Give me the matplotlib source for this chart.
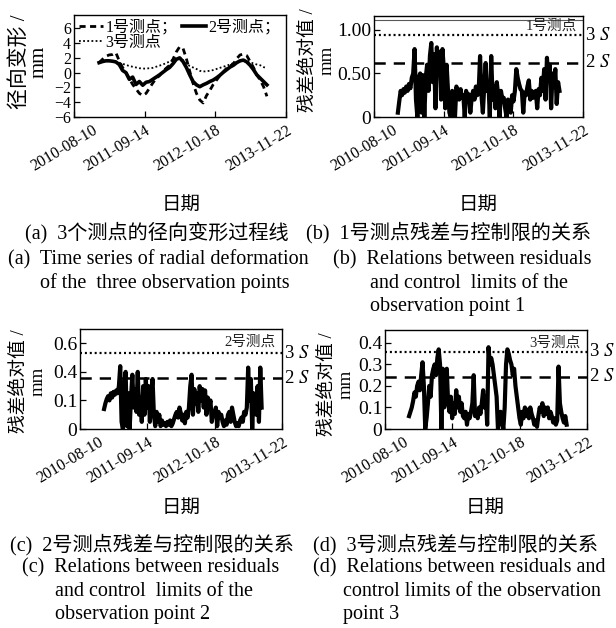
import numpy as np
import pandas as pd
import matplotlib
matplotlib.use('Agg')
import matplotlib.pyplot as plt
import matplotlib.dates as mdates
from matplotlib.transforms import ScaledTranslation

plt.rcParams['font.family'] = ['Liberation Serif', 'Noto Sans CJK SC']
plt.rcParams['mathtext.fontset'] = 'stix'

# x axis ticks
tick_dates = ['2010-08-10', '2011-09-14', '2012-10-18', '2013-11-22']

# (a) 径向变形 (mm), 每 19 天一个值
start_a = '2010-12-30'
defo_p1 = [1.35, 1.8, 2.2, 2.4, 2.45, 2.7, 1.6, 0.7, 0.0, -0.8, -1.6, -2.2, -2.8,
           -3.1, -2.8, -2.1, -1.4, -0.8, -0.4, 0.2, 0.6, 1.0, 1.8, 2.8, 3.5, 3.3,
           1.9, 0.2, -1.45, -2.8, -3.7, -4.1, -3.1, -2.4, -1.6, -1.0, -0.4, 0.1,
           0.6, 0.9, 1.2, 1.9, 2.4, 2.5, 2.3, 1.5, 0.7, -0.3, -1.0, -1.9, -3.2]
defo_p2 = [1.35, 1.5, 1.6, 1.6, 1.55, 1.45, 1.1, 0.3, 0.0, -0.9, -0.6, -1.6, -1.2,
           -1.7, -1.3, -1.2, -0.9, -0.6, -0.3, 0.05, 0.4, 0.7, 1.2, 1.8, 2.0, 1.5,
           0.7, -0.3, -1.2, -1.65, -1.9, -1.65, -1.45, -1.2, -1.0, -0.7, -0.35,
           0.05, 0.4, 0.75, 1.0, 1.35, 1.6, 1.7, 1.45, 1.0, 0.4, -0.3, -0.75,
           -1.2, -1.65]
defo_p3 = [1.35, 1.55, 1.7, 1.65, 1.55, 1.45, 1.35, 1.2, 1.05, 0.9, 0.8, 0.7, 0.6,
           0.55, 0.55, 0.6, 0.65, 0.8, 0.95, 1.1, 1.3, 1.5, 1.75, 2.0, 1.95, 1.7,
           1.2, 0.9, 0.7, 0.5, 0.25, 0.15, 0.2, 0.25, 0.35, 0.5, 0.65, 0.8, 0.95,
           1.1, 1.3, 1.4, 1.55, 1.6, 1.5, 1.4, 1.25, 1.1, 1.0, 0.75, 0.6]

# (b)-(d) 残差绝对值 (mm), 每 8 天一个值
start_b = '2010-12-25'
res_p1 = [0.05, 0.18, 0.30, 0.25, 0.32, 0.28, 0.35, 0.30, 0.38, 0.33, 0.45, 0.50,
          0.78, 0.20, 0.00, 0.45, 0.50, 0.05, 0.48, 0.00, 0.45, 0.60, 0.30, 0.70,
          0.85, 0.40, 0.72, 0.10, 0.80, 0.50, 0.75, 0.20, 0.78, 0.55, 0.10, 0.60,
          0.30, 0.05, 0.00, 0.30, 0.15, 0.00, 0.35, 0.28, 0.20, 0.32, 0.22, 0.25,
          0.00, 0.30, 0.18, 0.26, 0.05, 0.22, 0.30, 0.20, 0.35, 0.25, 0.30, 0.70,
          0.25, 0.05, 0.35, 0.62, 0.30, 0.40, 0.00, 0.70, 0.20, 0.35, 0.10, 0.40,
          0.25, 0.00, 0.30, 0.20, 0.22, 0.10, 0.00, 0.20, 0.15, 0.05, 0.25, 0.18,
          0.30, 0.55, 0.45, 0.38, 0.32, 0.30, 0.05, 0.28, 0.25, 0.35, 0.42, 0.20,
          0.30, 0.22, 0.28, 0.30, 0.10, 0.32, 0.25, 0.45, 0.30, 0.55, 0.20, 0.68,
          0.45, 0.60, 0.10, 0.50, 0.35, 0.55, 0.15, 0.40, 0.30]
start_cd = '2010-12-31'
res_p2 = [0.14, 0.18, 0.21, 0.23, 0.20, 0.25, 0.22, 0.26, 0.24, 0.27, 0.25, 0.30,
          0.44, 0.05, 0.00, 0.30, 0.40, 0.02, 0.25, 0.00, 0.22, 0.38, 0.15, 0.28,
          0.12, 0.40, 0.10, 0.22, 0.05, 0.30, 0.10, 0.35, 0.15, 0.30, 0.05, 0.25,
          0.35, 0.10, 0.02, 0.12, 0.05, 0.10, 0.02, 0.06, 0.03, 0.04, 0.02, 0.05,
          0.03, 0.06, 0.02, 0.04, 0.07, 0.10, 0.12, 0.08, 0.15, 0.11, 0.06, 0.10,
          0.04, 0.12, 0.08, 0.15, 0.30, 0.38, 0.10, 0.28, 0.18, 0.25, 0.12, 0.30,
          0.20, 0.28, 0.15, 0.27, 0.10, 0.22, 0.15, 0.20, 0.05, 0.12, 0.10, 0.15,
          0.02, 0.12, 0.08, 0.10, 0.05, 0.02, 0.06, 0.03, 0.10, 0.12, 0.05, 0.15,
          0.10, 0.05, 0.02, 0.04, 0.02, 0.06, 0.08, 0.05, 0.12, 0.10, 0.15, 0.43,
          0.20, 0.35, 0.00, 0.25, 0.20, 0.10, 0.30, 0.05, 0.43, 0.15]
res_p3 = [0.06, 0.08, 0.10, 0.13, 0.17, 0.15, 0.20, 0.22, 0.18, 0.25, 0.31, 0.20,
          0.00, 0.05, 0.12, 0.20, 0.15, 0.25, 0.28, 0.30, 0.25, 0.33, 0.37, 0.30,
          0.00, 0.28, 0.10, 0.22, 0.28, 0.12, 0.08, 0.15, 0.05, 0.12, 0.07, 0.18,
          0.10, 0.15, 0.08, 0.12, 0.06, 0.05, 0.08, 0.02, 0.07, 0.05, 0.08, 0.12,
          0.25, 0.06, 0.08, 0.05, 0.10, 0.07, 0.12, 0.18, 0.10, 0.15, 0.02, 0.38,
          0.30, 0.33, 0.30, 0.25, 0.20, 0.15, 0.00, 0.05, 0.08, 0.03, 0.00, 0.10,
          0.30, 0.37, 0.35, 0.32, 0.30, 0.25, 0.28, 0.20, 0.15, 0.10, 0.05, 0.02,
          0.08, 0.05, 0.10, 0.06, 0.09, 0.05, 0.10, 0.07, 0.05, 0.02, 0.04, 0.01,
          0.06, 0.10, 0.08, 0.12, 0.06, 0.10, 0.07, 0.10, 0.05, 0.08, 0.06, 0.03,
          0.05, 0.02, 0.04, 0.29, 0.12, 0.08, 0.05, 0.03, 0.06, 0.02]

# 控制限 [2S, 3S]
lim_p1 = [0.625, 0.94]
lim_p2 = [0.355, 0.53]
lim_p3 = [0.243, 0.36]
top_line_p1 = 1.11

fig = plt.figure(figsize=(6.16, 6.28), dpi=100)
W, H = 616, 628


def add_ax(l, t, r, b):
    return fig.add_axes([l / W, 1 - b / H, (r - l) / W, (b - t) / H])


def style_ax(ax, ysize):
    ax.set_xlim(pd.Timestamp(tick_dates[0]), pd.Timestamp(tick_dates[-1]))
    ax.set_xticks(pd.to_datetime(tick_dates))
    ax.xaxis.set_major_formatter(mdates.DateFormatter('%Y-%m-%d'))
    ax.tick_params(direction='in', length=4, width=0.9, top=False, right=False)
    ax.tick_params(axis='x', labelsize=11.5, pad=4)
    ax.tick_params(axis='y', labelsize=ysize, pad=2)
    labs = ax.get_xticklabels()
    for i, lab in enumerate(labs):
        lab.set_rotation(31)
        lab.set_ha('right')
        lab.set_va('top')
        lab.set_rotation_mode('anchor')
        dx = 13 if i == 0 else 0
        lab.set_transform(lab.get_transform() + ScaledTranslation(dx / 72, 0, fig.dpi_scale_trans))
    for s in ax.spines.values():
        s.set_linewidth(1.0)


# (a)
ax = add_ax(74, 15, 286, 117)
d_a = pd.date_range(start_a, periods=len(defo_p1), freq='19D')
h1, = ax.plot(d_a, defo_p1, color='black', lw=2.0, ls=(0, (2.2, 1.6)))
h2, = ax.plot(d_a, defo_p2, color='black', lw=2.6, ls='-')
h3, = ax.plot(d_a, defo_p3, color='black', lw=1.3, ls=(0, (1, 1.3)))
ax.set_ylim(-6, 7.8)
ax.set_yticks([-6, -4, -2, 0, 2, 4, 6])
style_ax(ax, 11.5)
ax.legend([h1, h3, h2], ['1号测点；', '3号测点', '2号测点；'], ncol=2, loc='upper left',
          frameon=False, fontsize=11.5, handlelength=1.5, handletextpad=0.15,
          columnspacing=0.3, borderpad=0.1, labelspacing=-0.05, borderaxespad=0.2)

# residual panels
panels = [
    ((374, 16, 583, 117), start_b, res_p1, lim_p1, (0, 1.16), [0, 0.5, 1.0], ['0', '0.50', '1.00'], '1号测点', 0.90),
    ((80, 329, 282, 429), start_cd, res_p2, lim_p2, (0, 0.7), [0, 0.2, 0.4, 0.6], ['0', '0.1', '0.4', '0.6'], '2号测点', 0.87),
    ((385, 330, 587, 429), start_cd, res_p3, lim_p3, (0, 0.46), [0, 0.1, 0.2, 0.3, 0.4], ['0', '0.1', '0.2', '0.3', '0.4'], '3号测点', 0.87),
]
for k, (box, st, res, lim, ylim, yt, ytl, name, ny) in enumerate(panels):
    ax = add_ax(*box)
    d = pd.date_range(st, periods=len(res), freq='8D')
    ax.plot(d, res, color='black', lw=3.0)
    ax.axhline(lim[0], color='black', lw=1.8, ls=(0, (4.5, 3.2)))
    ax.axhline(lim[1], color='black', lw=1.6, ls=(0, (0.9, 1.3)))
    if k == 0:
        ax.axhline(top_line_p1, color='0.35', lw=0.8)
    ax.set_ylim(*ylim)
    ax.set_yticks(yt)
    ax.set_yticklabels(ytl)
    style_ax(ax, 14)
    ax.text(0.97, ny, name, transform=ax.transAxes, ha='right', va='center',
            fontsize=10.5, color='#222222')
    tr = ax.get_yaxis_transform()
    ax.text(1.01, lim[1], '3 $S$', transform=tr, ha='left', va='center', fontsize=13.5)
    ax.text(1.01, lim[0], '2 $S$', transform=tr, ha='left', va='center', fontsize=13.5)

# y labels
fig.text(29 / W, 1 - 62 / H, '径向变形 /\nmm', rotation=90, ha='center', va='center',
         multialignment='center', fontsize=15, linespacing=1.0)
for x, y in [(318, 60), (29, 381), (337, 384)]:
    fig.text(x / W, 1 - y / H, '残差绝对值 /\nmm', rotation=90, ha='center', va='center',
             multialignment='center', fontsize=13.5, linespacing=1.15)

# x labels
for x, y in [(181, 205), (478, 205), (181, 508), (485, 508)]:
    fig.text(x / W, 1 - y / H, '日期', ha='center', va='center', fontsize=14)

# captions
caps = [
    (25, 233, '(a)  3个测点的径向变形过程线'),
    (306, 233, '(b)  1号测点残差与控制限的关系'),
    (8, 260, '(a)  Time series of radial deformation'),
    (333, 260, '(b)  Relations between residuals'),
    (40, 283, 'of the  three observation points'),
    (370, 283, 'and control  limits of the'),
    (370, 306, 'observation point 1'),
    (10, 545, '(c)  2号测点残差与控制限的关系'),
    (313, 545, '(d)  3号测点残差与控制限的关系'),
    (22, 568, '(c)  Relations between residuals'),
    (313, 568, '(d)  Relations between residuals and'),
    (55, 591, 'and control  limits of the'),
    (343, 591, 'control limits of the observation'),
    (55, 614, 'observation point 2'),
    (343, 614, 'point 3'),
]
for x, y, s in caps:
    fig.text(x / W, 1 - y / H, s, ha='left', va='center', fontsize=14.5)

fig.savefig('out.png', dpi=100)
